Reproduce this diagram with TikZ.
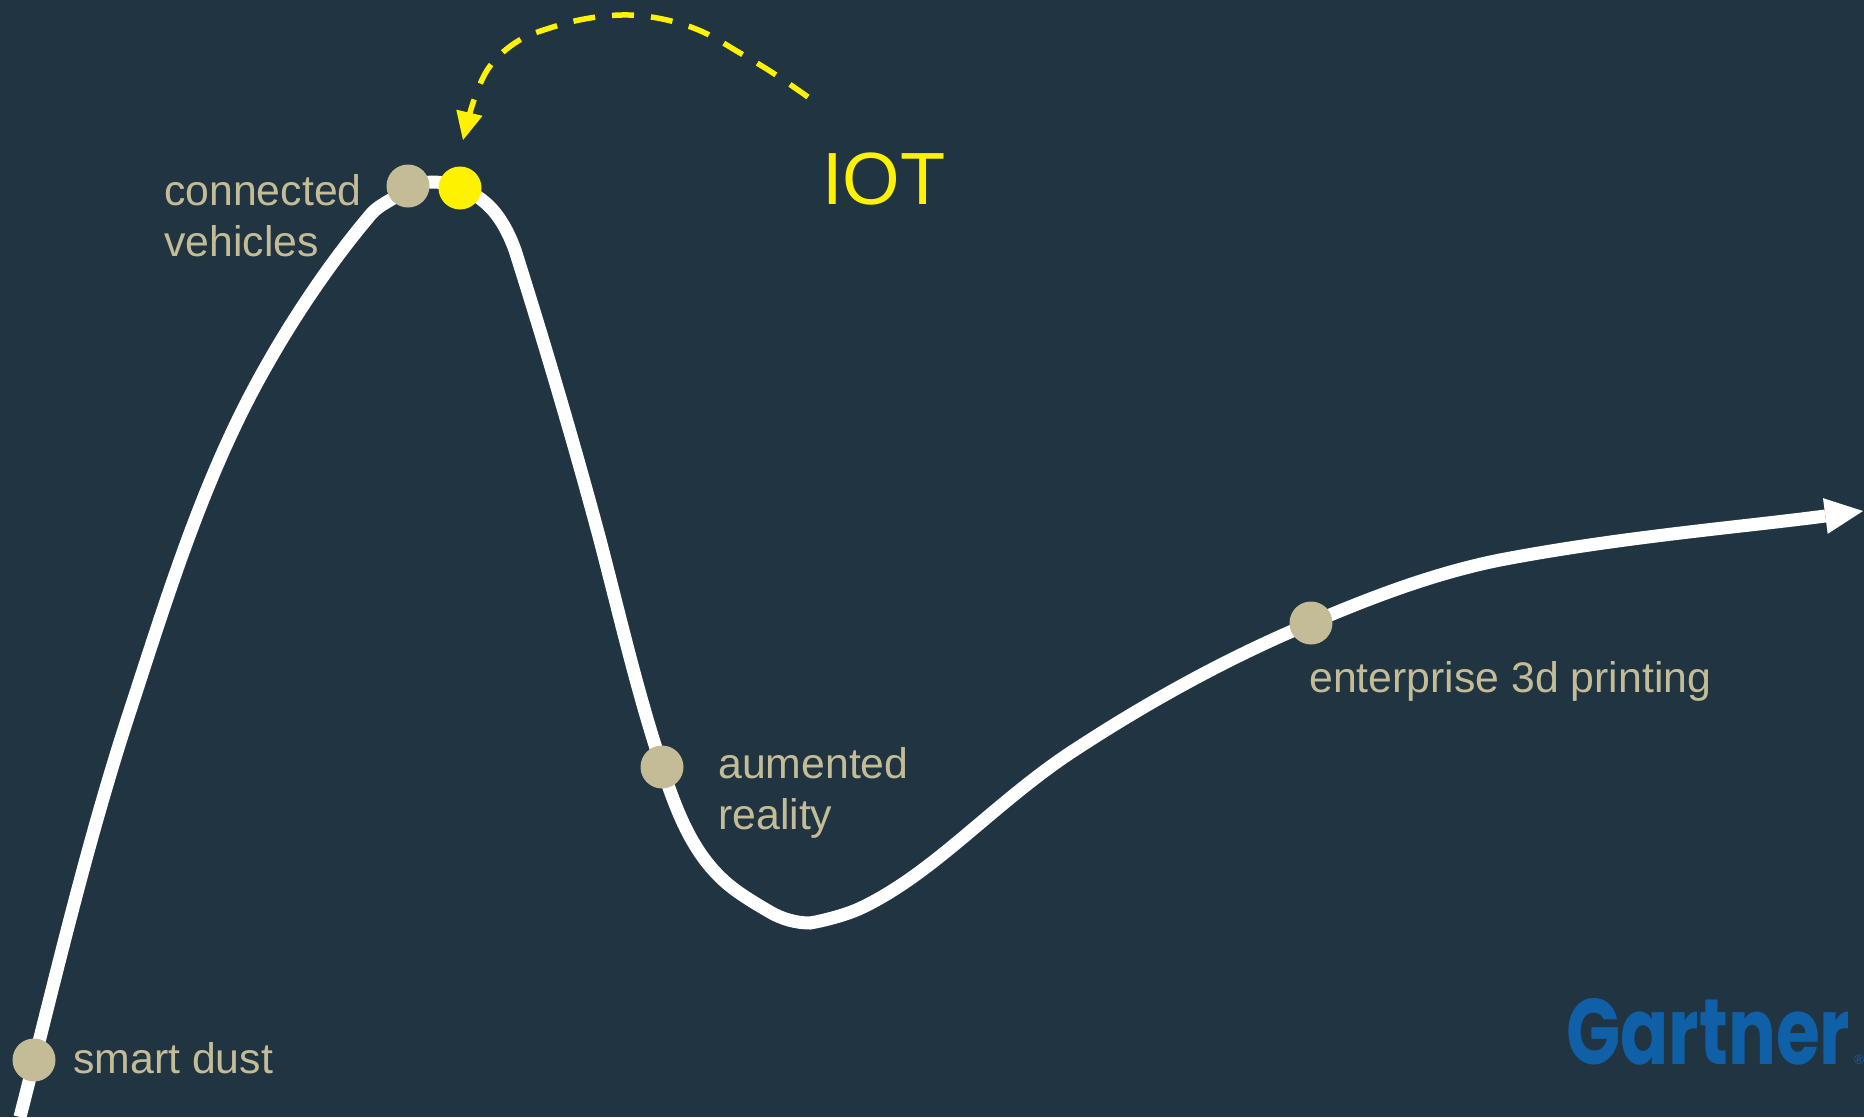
\documentclass[tikz,border=0pt]{standalone}
\usepackage{fontspec}
\usepackage{graphicx}
\setmainfont{Liberation Sans}
\newfontfamily\logofont{Poppins}
\usetikzlibrary{arrows.meta}
\definecolor{bgc}{HTML}{203441}
\definecolor{tanc}{HTML}{C4BC96}
\definecolor{logoc}{HTML}{1060A8}
\tikzset{
  x=1pt,y=-1pt,
  dot/.style={circle,fill=tanc,draw=none,minimum size=43pt,inner sep=0pt},
  yellowdot/.style={dot,fill=yellow},
  lab/.style={text=tanc,font=\fontsize{42.8}{51}\selectfont,inner sep=0pt,align=left,anchor=base west},
  hype/.style={draw=white,line width=13pt,-{Triangle[length=38pt,width=36pt,fill=white,line width=0pt]}},
}
\begin{document}
\begin{tikzpicture}
\useasboundingbox (0,0) rectangle (1864,1117);
\fill[bgc] (0,0) rectangle (1864,1117);
\coordinate (curvestart) at (20,1117);
\coordinate (curveend) at (1863,511);
\draw[hype] (curvestart)
 .. controls (54,984) and (85,850) .. (127,720)
 .. controls (167,598) and (204,474) .. (268,363)
 .. controls (298,310) and (335,257) .. (367,219)
 .. controls (374,210) and (378,207) .. (392,199)
 .. controls (405,191) and (418,182) .. (432,182)
 .. controls (450,182) and (468,189) .. (482,200)
 .. controls (498,212) and (508,231) .. (515,250)
 .. controls (545,345) and (574,443) .. (600,540)
 .. controls (618,609) and (634,678) .. (655,745)
 .. controls (670,792) and (685,843) .. (720,877)
 .. controls (734,891) and (753,902) .. (770,912)
 .. controls (782,919) and (796,923) .. (810,923)
 .. controls (822,921) and (847,915) .. (863,907)
 .. controls (898,890) and (930,865) .. (960,840)
 .. controls (996,810) and (1031,779) .. (1070,753)
 .. controls (1146,703) and (1227,658) .. (1311,623)
 .. controls (1372,597) and (1435,573) .. (1500,560)
 .. controls (1620,537) and (1742,527) .. (curveend);
\node[dot] (dust) at (34,1060) {};
\node[dot] (vehicles) at (408,186) {};
\node[yellowdot] (iot) at (460,188) {};
\node[dot] (reality) at (662,767) {};
\node[dot] (printing) at (1311,623) {};
\node[lab] (dustlab) at (73,1073) {smart dust};
\node[lab] (vehlab) at (164,256) {connected\\vehicles};
\node[lab] (arlab) at (718,829) {aumented\\reality};
\node[lab] (printlab) at (1309,692) {enterprise 3d printing};
\node[text=yellow,font=\fontsize{74}{80}\selectfont,inner sep=0pt,anchor=base west] (iotlab) at (822,204) {IOT};
\coordinate (dashstart) at (808,97);
\coordinate (dashend) at (463,140);
\draw[yellow,line width=5.5pt,dash pattern=on 22pt off 17pt,-{Triangle[length=28pt,width=27pt,fill=yellow,line width=0pt]}] plot[smooth,tension=0.6] coordinates {(dashstart) (773,73) (740,53) (703,32) (667,20) (629,15) (590,18) (553,27) (518,41) (490,66) (474,100) (dashend)};
\node[text=logoc,font=\logofont\bfseries\fontsize{93}{93}\selectfont,inner sep=0pt,anchor=base west] (logo) at (1566,1064) {\scalebox{.765}[1]{Gartner}};
\node[text=logoc,font=\fontsize{13.5}{13.5}\selectfont,inner sep=0pt,anchor=base west] (reg) at (1854,1064) {®};
\end{tikzpicture}
\end{document}
